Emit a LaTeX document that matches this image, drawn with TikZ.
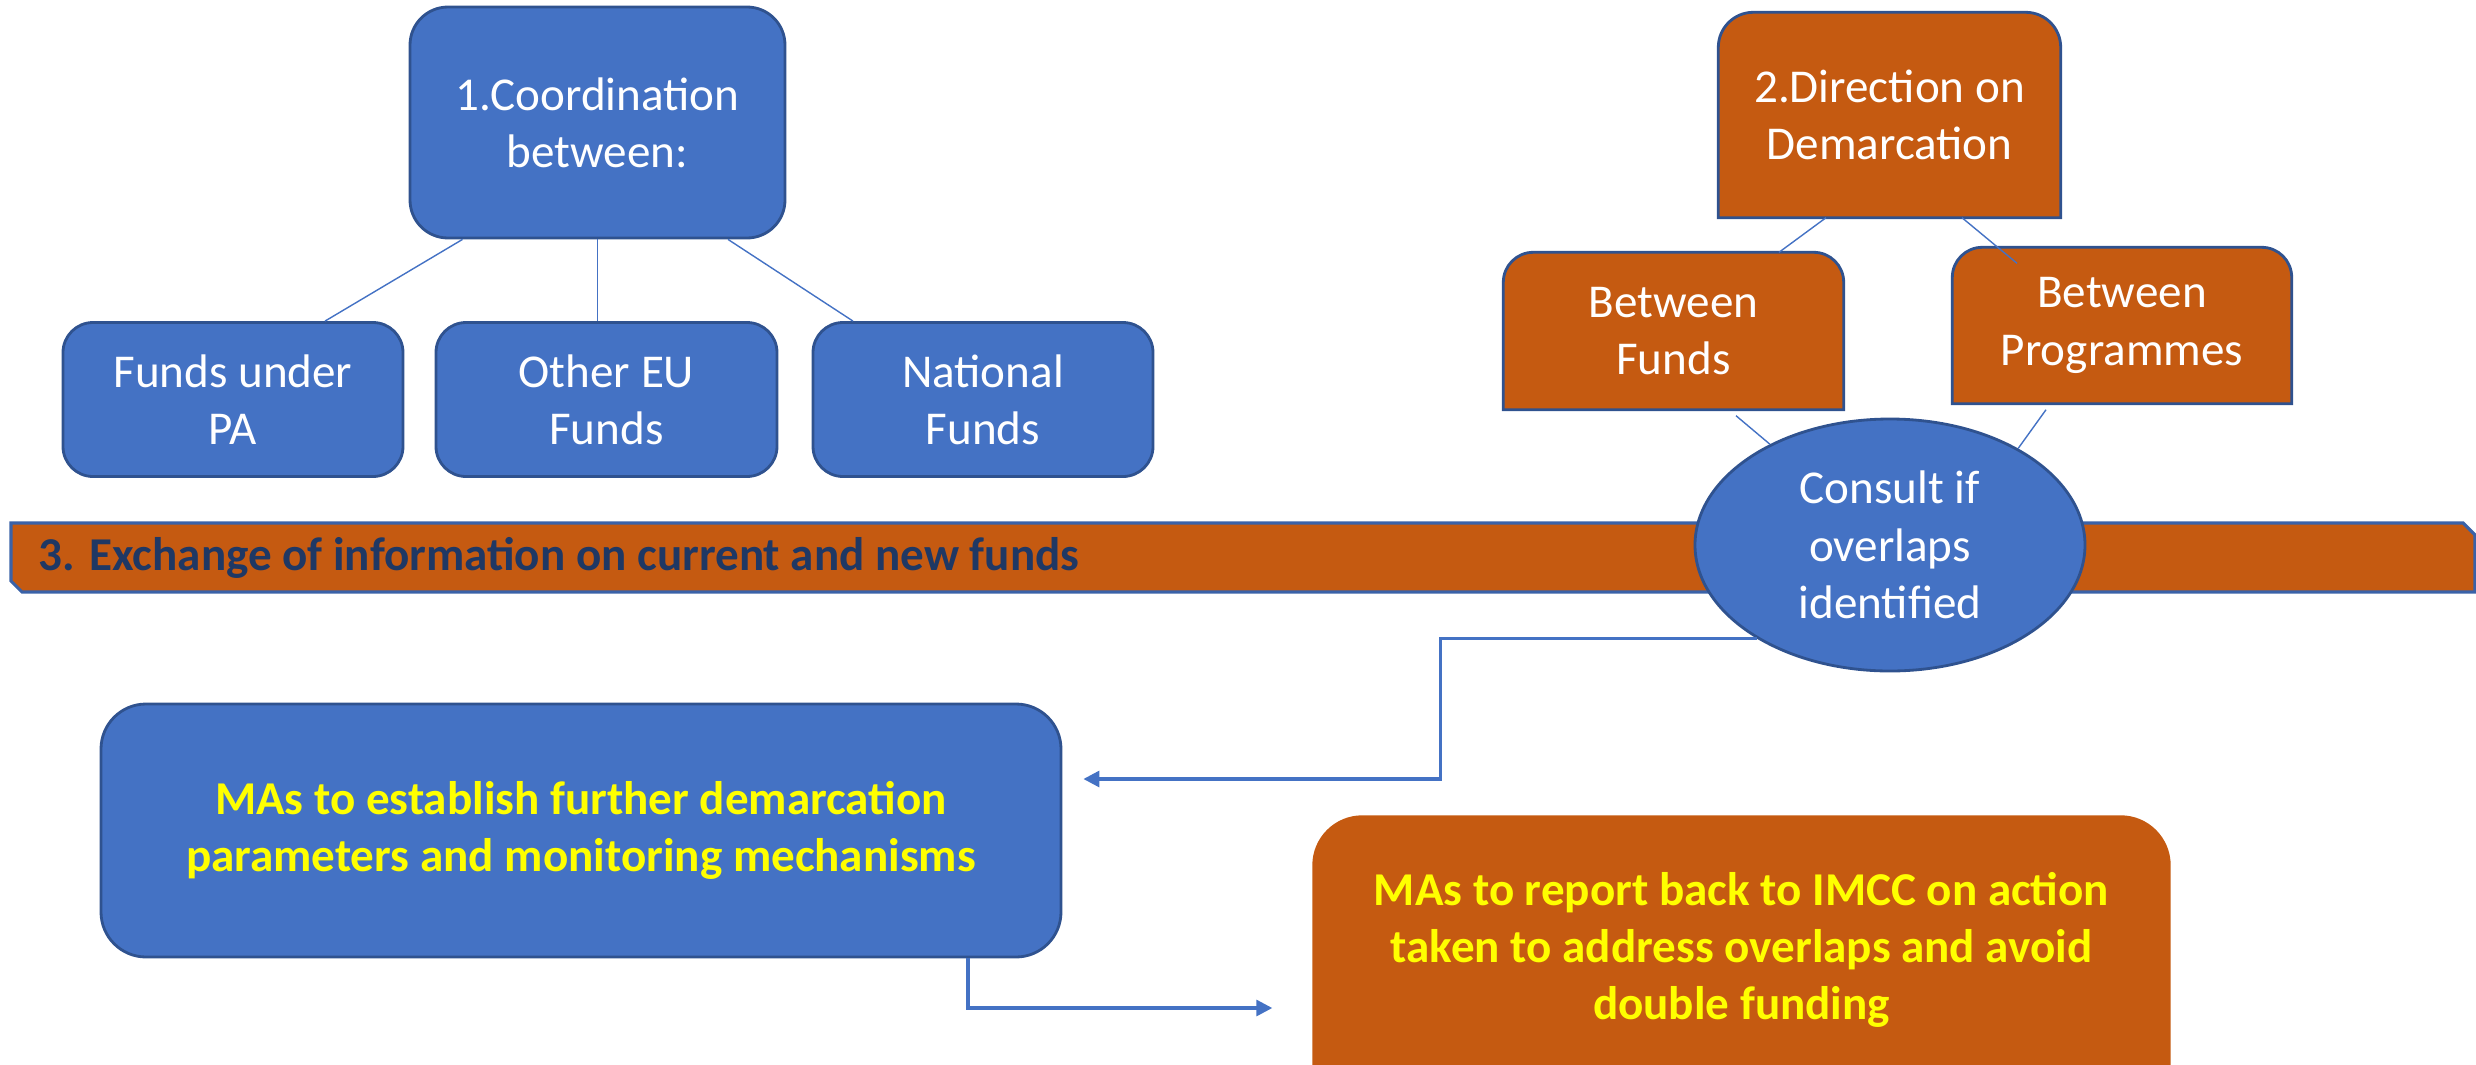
\documentclass[tikz,border=0pt]{standalone}
\usepackage{fontspec}
\setmainfont{Carlito}
\usetikzlibrary{shapes.geometric,arrows.meta,backgrounds}
\definecolor{blueF}{HTML}{4472C4}
\definecolor{orangeF}{HTML}{C55A11}
\definecolor{edgeB}{HTML}{2F528F}
\definecolor{bannerE}{HTML}{3A62A8}
\definecolor{bannerT}{HTML}{1F3864}
\definecolor{yellowT}{HTML}{FFFF00}

\begin{document}
\begin{tikzpicture}[>={Triangle[length=1.6mm,width=1.6mm]},node distance=2.77cm,
    box font/.style={font=\fontsize{13.4}{16.3}\selectfont},
    blue node/.style={rectangle,rounded corners=3.5mm,draw=edgeB,line width=0.8pt,fill=blueF,text=white,align=center,inner sep=0pt,box font},
    orange node/.style={rectangle,inner sep=0pt,text=white,align=center,box font},
    link/.style={draw=blueF,line width=0.4pt},
    arr/.style={->,draw=blueF,line width=0.9pt}]
                \useasboundingbox (0,0) rectangle (24.76,-10.65);
                \clip (0,0) rectangle (24.76,-10.65);

                % coordination part
                \node [blue node, rounded corners=3.8mm, minimum width=3.75cm, minimum height=2.31cm](1) at (5.975,-1.225){1.Coordination\\between:};
                \node [blue node, rounded corners=3mm, minimum width=3.4cm, minimum height=1.54cm](2) [below of=1, xshift=-3.645cm]{Funds under\\PA};
                \node [blue node, rounded corners=3mm, minimum width=3.41cm, minimum height=1.54cm](3) [below of=1, xshift=0.09cm]{Other EU\\Funds};
                \node [blue node, rounded corners=3mm, minimum width=3.4cm, minimum height=1.54cm](4) [below of=1, xshift=3.855cm]{National\\Funds};

                % demarcation part
                \node [orange node, minimum width=3.41cm, minimum height=2.04cm](5) at (18.895,-1.15){2.Direction on\\Demarcation};
                \node [orange node, minimum width=3.39cm, minimum height=1.56cm](6) at (16.735,-3.31){Between\\Funds};
                \node [orange node, minimum width=3.38cm, minimum height=1.55cm](7) at (21.22,-3.255){Between\\Programmes};

                % banner
                \draw [fill=orangeF, draw=bannerE, line width=0.9pt] (0.11,-5.23) -- (24.63,-5.23) -- (24.75,-5.35) -- (24.75,-5.92) -- (0.22,-5.92) -- (0.11,-5.81) -- cycle;
                \node [anchor=west, inner sep=0pt, text=bannerT, box font, font=\fontsize{13.4}{16.3}\selectfont\bfseries](9) at (0.38,-5.575){3. Exchange of information on current and new funds};

                \node [ellipse, draw=edgeB, line width=0.8pt, fill=blueF, text=white, align=center, inner sep=0pt, minimum width=3.9cm, minimum height=2.52cm, box font](8) at (18.9,-5.45){Consult if\\overlaps\\identified};

                % actions
                \node [blue node, rounded corners=4.5mm, minimum width=9.6cm, minimum height=2.53cm, text=yellowT, font=\fontsize{13.4}{16.3}\selectfont\bfseries](10) at (5.81,-8.305){MAs to establish further demarcation\\parameters and monitoring mechanisms};
                \node [orange node, minimum width=8.57cm, minimum height=2.68cm, text=yellowT, font=\fontsize{13.4}{16.3}\selectfont\bfseries](11) at (17.415,-9.5){MAs to report back to IMCC on action\\taken to address overlaps and avoid\\double funding};

                \begin{pgfonlayer}{background}
                \foreach \n/\rad in {5/3.5mm,6/3mm,7/3mm}
                    \draw [fill=orangeF, draw=edgeB, line width=0.8pt] (\n.south west) -- ([yshift=-\rad]\n.north west) arc[start angle=180, end angle=90, radius=\rad] -- ([xshift=-\rad]\n.north east) arc[start angle=90, end angle=0, radius=\rad] -- (\n.south east) -- cycle;
                \fill [orangeF] (11.south west) -- ([yshift=-5mm]11.north west) arc[start angle=180, end angle=90, radius=5mm] -- ([xshift=-5mm]11.north east) arc[start angle=90, end angle=0, radius=5mm] -- (11.south east) -- cycle;
                \end{pgfonlayer}

                \path[link]
                    ([xshift=-13.5mm]1.south) edge ([xshift=9.2mm]2.north)
                    (1.south) edge (1.south |- 3.north)
                    ([xshift=13.05mm]1.south) edge ([xshift=-13mm]4.north)

                    ([xshift=-6.35mm]5.south) edge ([xshift=10.55mm]6.north)
                    ([xshift=7.25mm]5.south) edge ([xshift=-10.5mm,yshift=-1.6mm]7.north)

                    ([xshift=6.25mm,yshift=-0.6mm]6.south) edge (8.140)
                    ([xshift=-7.6mm,yshift=-0.6mm]7.south) edge (8.37)
                    ;

                \draw [arr, shorten >=2.1mm] (8.215) -- ++(-3.16,0) |- ([yshift=5.15mm]10.east);
                \draw [arr, shorten >=4mm] ([xshift=3.87cm]10.south) |- ([yshift=-5.8mm]11.west);
            \end{tikzpicture}
\end{document}
